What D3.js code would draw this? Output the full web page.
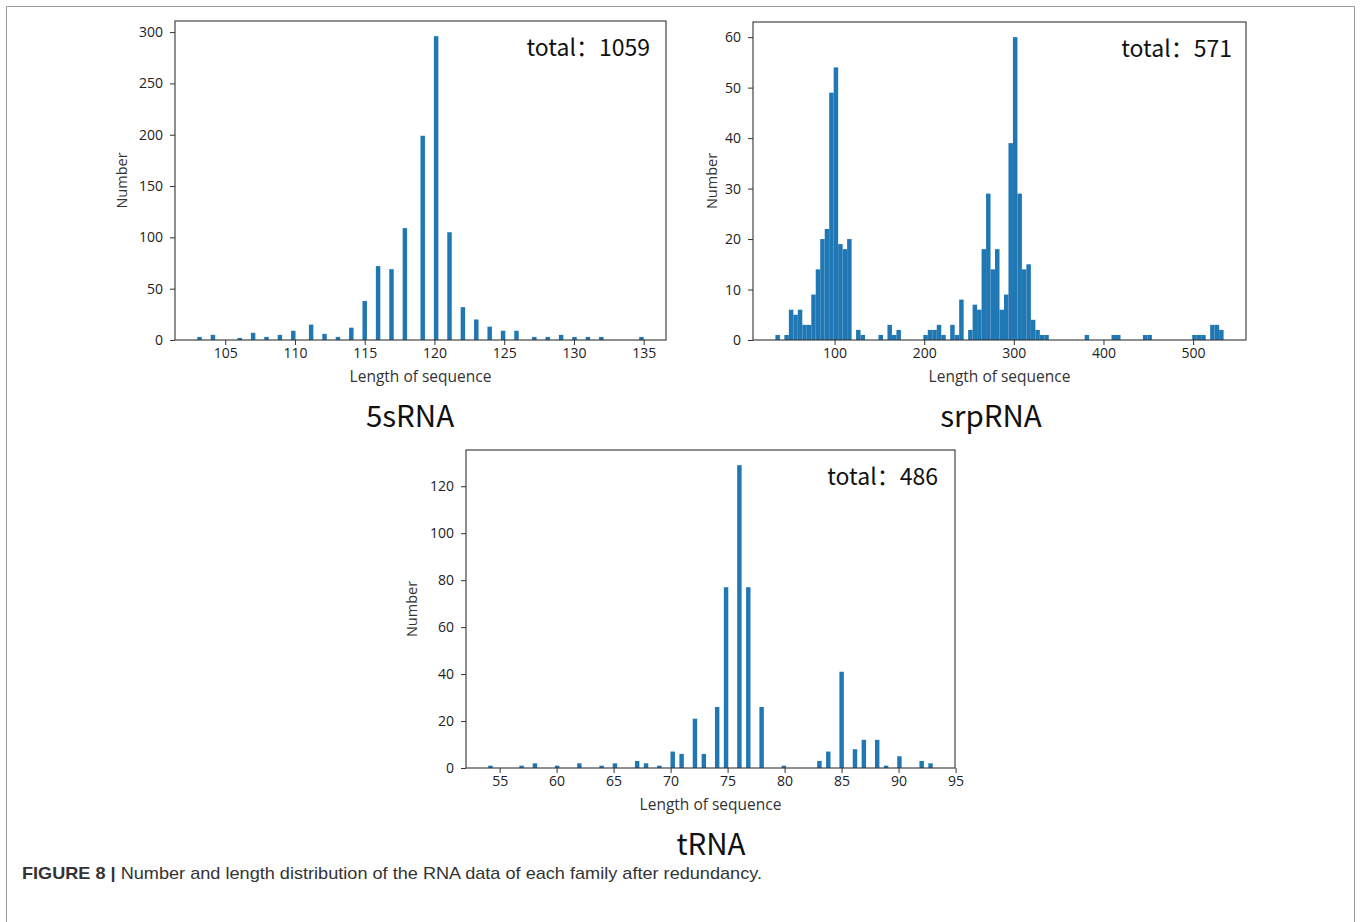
<!DOCTYPE html>
<html>
<head>
<meta charset="utf-8">
<script src="https://cdn.jsdelivr.net/npm/d3@7"></script>
<style>
  body { margin: 0; background: #fff; }
  .tick text { font-family: "Open Sans", "Noto Sans", sans-serif; font-size: 14px; fill: #222; }
  .tick line { stroke: #333; }
</style>
</head>
<body>
<div id="fig"></div>
<script>
// 5sRNA lengths and counts
var s5Lengths = [103,104,106,107,108,109,110,111,112,113,114,115,116,117,118,119,120,121,122,123,124,125,126,127,128,129,130,131,132,135];
var s5Counts  = [3,5,2,7,3,5,9,15,6,3,12,38,72,69,109,199,296,105,32,20,13,9,9,3,3,5,3,3,3,3];
var s5XTicks = [105,110,115,120,125,130,135];
var s5YTicks = [0,50,100,150,200,250,300];

// srpRNA: 100 histogram bins over the length range
var srpRange = [34, 534];
var srpCounts = [1,0,1,6,5,6,3,3,9,14, 20,22,49,54,19,18,20,0,2,1,
                 0,0,0,1,0,3,1,2,0,0, 0,0,0,1,2,2,3,1,0,3,
                 1,8,0,2,7,6,18,29,14,18, 6,9,39,60,29,14,15,4,2,1,
                 1,0,0,0,0,0,0,0,0,1, 0,0,0,0,0,1,1,0,0,0,
                 0,0,1,1,0,0,0,0,0,0, 0,0,0,1,1,1,0,3,3,2];
var srpXTicks = [100,200,300,400,500];
var srpYTicks = [0,10,20,30,40,50,60];

// tRNA lengths and counts
var tLengths = [54,57,58,60,62,64,65,67,68,69,70,71,72,73,74,75,76,77,78,80,83,84,85,86,87,88,89,90,92,93];
var tCounts  = [1,1,2,1,2,1,2,3,2,1,7,6,21,6,26,77,129,77,26,1,3,7,41,8,12,12,1,5,3,2];
var tXTicks = [55,60,65,70,75,80,85,90,95];
var tYTicks = [0,20,40,60,80,100,120];

var titles = ["5sRNA", "srpRNA", "tRNA"];
var totals = ["1059", "571", "486"];

var W = 1360, H = 922;
var svg = d3.select("#fig").append("svg")
    .attr("width", W)
    .attr("height", H);

svg.append("rect").attr("width", W).attr("height", H).attr("fill", "#fff");

// outer border of the figure
svg.append("path")
    .attr("d", "M6.5,930V6.5H1354.5V930")
    .attr("fill", "none")
    .attr("stroke", "#9a9a9a")
    .attr("stroke-width", 1);

// turn length list into 100 histogram bins (like matplotlib hist)
function toBins(lengths, counts) {
  var lo = d3.min(lengths), hi = d3.max(lengths);
  var w = (hi - lo) / 100;
  var bins = [];
  lengths.forEach(function(v, k) {
    var i = Math.min(99, Math.floor((v - lo) / w + 1e-9));
    bins.push({x0: lo + i * w, x1: lo + (i + 1) * w, n: counts[k]});
  });
  return {lo: lo, hi: hi, bins: bins};
}

function srpBins() {
  var w = (srpRange[1] - srpRange[0]) / srpCounts.length;
  return {
    lo: srpRange[0], hi: srpRange[1],
    bins: srpCounts.map(function(n, i) {
      return {x0: srpRange[0] + i * w, x1: srpRange[0] + (i + 1) * w, n: n};
    }).filter(function(b) { return b.n > 0; })
  };
}

function panel(p) {
  var g = svg.append("g").attr("transform", "translate(" + p.left + "," + p.top + ")");
  var pw = p.right - p.left, ph = p.bottom - p.top;
  var h = p.hist;
  var pad = 0.05 * (h.hi - h.lo);

  var x = d3.scaleLinear().domain([h.lo - pad, h.hi + pad]).range([0, pw]);
  var y = d3.scaleLinear().domain([0, d3.max(h.bins, function(d) { return d.n; }) * 1.05]).range([ph, 0]);

  g.selectAll("rect.bar")
    .data(h.bins)
    .enter()
    .append("rect")
      .attr("class", "bar")
      .attr("x", function(d) { return x(d.x0); })
      .attr("width", function(d) { return x(d.x1) - x(d.x0); })
      .attr("y", function(d) { return y(d.n); })
      .attr("height", function(d) { return ph - y(d.n); })
      .attr("fill", "#1f77b4");

  var ax = g.append("g")
    .attr("transform", "translate(0," + ph + ")")
    .call(d3.axisBottom(x).tickValues(p.xt).tickFormat(d3.format("d")).tickSize(5).tickPadding(3));
  ax.select(".domain").remove();

  var ay = g.append("g")
    .call(d3.axisLeft(y).tickValues(p.yt).tickFormat(d3.format("d")).tickSize(5).tickPadding(7));
  ay.select(".domain").remove();

  // plot frame
  g.append("rect")
    .attr("width", pw).attr("height", ph)
    .attr("fill", "none")
    .attr("stroke", "#333")
    .attr("stroke-width", 1.1);

  g.append("text")
    .attr("text-anchor", "middle")
    .attr("transform", "translate(" + (-p.ylab) + "," + (ph / 2) + ")rotate(-90)")
    .attr("dy", "0.35em")
    .style("font-family", "'Open Sans', 'Noto Sans', sans-serif")
    .style("font-size", "14.5px")
    .style("fill", "#333")
    .text("Number");

  g.append("text")
    .attr("text-anchor", "middle")
    .attr("x", pw / 2)
    .attr("y", ph + 37)
    .attr("dy", "0.35em")
    .style("font-family", "'Open Sans', 'Noto Sans', sans-serif")
    .style("font-size", "15.5px")
    .style("fill", "#333")
    .text("Length of sequence");

  g.append("text")
    .attr("text-anchor", "end")
    .attr("x", pw - p.tot)
    .attr("y", 27)
    .attr("dy", "0.35em")
    .style("font-family", "'Noto Sans CJK SC', 'Noto Sans', sans-serif")
    .style("font-size", "23px")
    .style("fill", "#111")
    .text("total：" + p.total);

  g.append("text")
    .attr("text-anchor", "middle")
    .attr("x", p.tx - p.left)
    .attr("y", ph + 77)
    .attr("dy", "0.35em")
    .style("font-family", "'Noto Sans CJK SC', 'Noto Sans', sans-serif")
    .style("font-size", "29.5px")
    .style("fill", "#111")
    .text(p.title);
}

panel({left: 175, right: 666, top: 21, bottom: 340, hist: toBins(s5Lengths, s5Counts),
       xt: s5XTicks, yt: s5YTicks, ylab: 53, tot: 16, total: totals[0], title: titles[0], tx: 410});
panel({left: 753, right: 1246, top: 22, bottom: 340, hist: srpBins(),
       xt: srpXTicks, yt: srpYTicks, ylab: 41, tot: 14, total: totals[1], title: titles[1], tx: 991});
panel({left: 466, right: 955, top: 450, bottom: 768, hist: toBins(tLengths, tCounts),
       xt: tXTicks, yt: tYTicks, ylab: 54, tot: 17, total: totals[2], title: titles[2], tx: 711});

// caption
var cap = svg.append("text")
    .attr("x", 22)
    .attr("y", 879)
    .attr("textLength", 740)
    .attr("lengthAdjust", "spacingAndGlyphs")
    .style("font-family", "'Liberation Sans', Arial, sans-serif")
    .style("font-size", "17px")
    .style("fill", "#333");
cap.append("tspan").style("font-weight", "bold").text("FIGURE 8 | ");
cap.append("tspan").text("Number and length distribution of the RNA data of each family after redundancy.");
</script>
</body>
</html>
